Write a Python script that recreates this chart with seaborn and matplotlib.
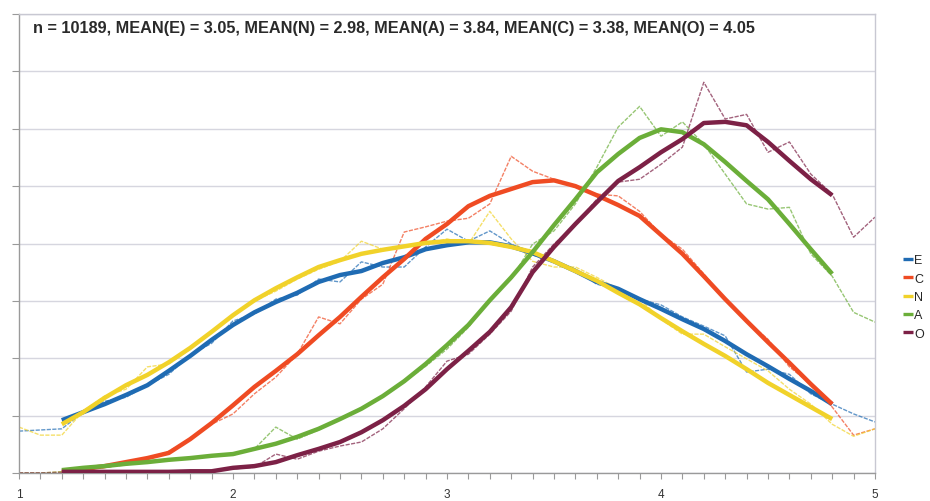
import matplotlib
matplotlib.use("Agg")
import matplotlib.pyplot as plt
from matplotlib.ticker import MultipleLocator
import seaborn as sns

# Mean score bins (step 0.1) and the 5-point moving-average range
scores = [1.0, 1.1, 1.2, 1.3, 1.4, 1.5, 1.6, 1.7, 1.8, 1.9,
          2.0, 2.1, 2.2, 2.3, 2.4, 2.5, 2.6, 2.7, 2.8, 2.9,
          3.0, 3.1, 3.2, 3.3, 3.4, 3.5, 3.6, 3.7, 3.8, 3.9,
          4.0, 4.1, 4.2, 4.3, 4.4, 4.5, 4.6, 4.7, 4.8, 4.9, 5.0]
scores_avg = scores[2:-2]

# Share of respondents (%) per score bin
e_raw = [0.73, 0.75, 0.77, 1.06, 1.25, 1.32, 1.53, 1.72, 2.06, 2.26,
         2.65, 2.77, 3.03, 3.10, 3.38, 3.33, 3.68, 3.59, 3.59, 3.94,
         4.25, 4.04, 4.22, 3.99, 3.80, 3.69, 3.55, 3.29, 3.21, 3.03,
         2.93, 2.72, 2.56, 2.39, 1.76, 1.81, 1.72, 1.38, 1.20, 1.03, 0.89]
c_raw = [0.00, 0.00, 0.02, 0.05, 0.10, 0.16, 0.24, 0.38, 0.59, 0.85,
         1.03, 1.38, 1.67, 2.07, 2.72, 2.60, 3.03, 3.29, 4.20, 4.29,
         4.39, 4.44, 4.69, 5.52, 5.26, 5.12, 4.98, 4.86, 4.83, 4.56,
         4.16, 3.90, 3.47, 3.03, 2.65, 2.33, 1.85, 1.55, 1.15, 0.66, 0.77]
n_raw = [0.80, 0.66, 0.66, 1.08, 1.34, 1.46, 1.85, 1.90, 2.16, 2.47,
         2.75, 3.00, 3.17, 3.38, 3.55, 3.69, 4.04, 3.90, 3.94, 3.99,
         4.08, 3.99, 4.56, 4.08, 3.69, 3.59, 3.59, 3.41, 3.21, 3.03,
         2.68, 2.42, 2.42, 2.20, 1.99, 1.78, 1.46, 1.20, 0.85, 0.64, 0.77]
a_raw = [0.00, 0.00, 0.02, 0.05, 0.10, 0.14, 0.21, 0.24, 0.24, 0.30,
         0.31, 0.42, 0.80, 0.59, 0.75, 0.94, 1.13, 1.34, 1.59, 1.86,
         2.16, 2.54, 3.03, 3.38, 3.99, 4.22, 4.69, 5.33, 6.03, 6.39,
         5.87, 6.12, 5.73, 5.21, 4.69, 4.60, 4.63, 3.82, 3.43, 2.80, 2.63]
o_raw = [0.00, 0.00, 0.00, 0.00, 0.00, 0.00, 0.00, 0.02, 0.02, 0.03,
         0.07, 0.10, 0.33, 0.24, 0.38, 0.47, 0.54, 0.77, 1.12, 1.50,
         1.95, 2.07, 2.42, 2.82, 3.59, 3.99, 4.34, 4.77, 5.07, 5.12,
         5.38, 5.68, 6.81, 6.17, 6.25, 5.59, 5.77, 5.21, 4.86, 4.11, 4.46]

# Moving-average curves (1.2 .. 4.8)
e_avg = [0.92, 1.06, 1.20, 1.36, 1.53, 1.78, 2.04, 2.32, 2.58, 2.80,
         2.98, 3.14, 3.33, 3.45, 3.52, 3.66, 3.76, 3.90, 3.97, 4.02,
         4.02, 3.95, 3.83, 3.69, 3.52, 3.33, 3.21, 3.03, 2.86, 2.68,
         2.51, 2.30, 2.07, 1.86, 1.64, 1.43, 1.20]
c_avg = [0.02, 0.07, 0.12, 0.19, 0.26, 0.35, 0.59, 0.87, 1.18, 1.50,
         1.78, 2.07, 2.40, 2.72, 3.07, 3.41, 3.73, 4.08, 4.34, 4.65,
         4.83, 4.95, 5.07, 5.10, 5.00, 4.84, 4.67, 4.48, 4.15, 3.82,
         3.43, 3.03, 2.65, 2.28, 1.92, 1.55, 1.20]
n_avg = [0.85, 1.06, 1.31, 1.53, 1.71, 1.93, 2.18, 2.46, 2.75, 3.01,
         3.22, 3.41, 3.59, 3.71, 3.82, 3.89, 3.95, 4.01, 4.04, 4.04,
         4.01, 3.94, 3.85, 3.69, 3.52, 3.35, 3.14, 2.94, 2.70, 2.47,
         2.25, 2.04, 1.81, 1.57, 1.36, 1.15, 0.94]
a_avg = [0.05, 0.09, 0.12, 0.16, 0.19, 0.23, 0.26, 0.30, 0.33, 0.42,
         0.51, 0.63, 0.77, 0.94, 1.12, 1.34, 1.60, 1.90, 2.23, 2.58,
         3.01, 3.41, 3.85, 4.32, 4.77, 5.24, 5.56, 5.84, 5.99, 5.94,
         5.73, 5.42, 5.09, 4.77, 4.34, 3.90, 3.47]
o_avg = [0.02, 0.02, 0.02, 0.02, 0.02, 0.02, 0.03, 0.03, 0.09, 0.12,
         0.19, 0.31, 0.42, 0.54, 0.71, 0.92, 1.17, 1.46, 1.81, 2.13,
         2.46, 2.89, 3.50, 3.94, 4.34, 4.72, 5.09, 5.33, 5.59, 5.82,
         6.10, 6.12, 6.06, 5.77, 5.44, 5.12, 4.84]

series_names = ["E", "C", "N", "A", "O"]
raw_values = [e_raw, c_raw, n_raw, a_raw, o_raw]
avg_values = [e_avg, c_avg, n_avg, a_avg, o_avg]
colors = ["#1F6BB3", "#EF4B23", "#F1D22A", "#6BAE39", "#7C2146"]

header = ("n = 10189, MEAN(E) = 3.05, MEAN(N) = 2.98, MEAN(A) = 3.84, "
          "MEAN(C) = 3.38, MEAN(O) = 4.05")

sns.set_style("white")
plt.rcParams["font.family"] = ["Liberation Sans", "DejaVu Sans"]

W, H = 930, 502
fig = plt.figure(figsize=(W / 100, H / 100), dpi=100)
ax = fig.add_axes([19 / W, 28 / H, (875 - 19) / W, (474 - 15) / H])

# thin raw lines underneath
for vals, col in zip(raw_values, colors):
    sns.lineplot(x=scores, y=vals, ax=ax, color=col, linewidth=1.0,
                 alpha=0.7, linestyle=(0, (3, 1)), zorder=2)

# thick smoothed lines on top
for name, vals, col in zip(series_names, avg_values, colors):
    sns.lineplot(x=scores_avg, y=vals, ax=ax, color=col, linewidth=3.2,
                 label=name, zorder=3, solid_capstyle="butt")

ax.set_xlim(1, 5)
ax.set_ylim(0, 8)
ax.set_xlabel("")
ax.set_ylabel("")

ax.xaxis.set_major_locator(MultipleLocator(1))
ax.xaxis.set_minor_locator(MultipleLocator(0.1))
ax.yaxis.set_major_locator(MultipleLocator(1))
ax.tick_params(axis="x", which="both", direction="out", length=4,
               width=0.8, color="#9A9A9A", bottom=True, pad=7,
               labelsize=8.5, labelcolor="#333333")
ax.tick_params(axis="y", which="major", direction="out", length=5,
               width=0.8, color="#9A9A9A", left=True, labelleft=False)

ax.grid(axis="y", color="#D6D6DF", linewidth=1.0)
ax.grid(axis="x", visible=False)
for side in ["left", "bottom"]:
    ax.spines[side].set_color("#9A9A9A")
    ax.spines[side].set_linewidth(1.0)
for side in ["top", "right"]:
    ax.spines[side].set_color("#C8C8D2")
    ax.spines[side].set_linewidth(1.0)

fig.text(33 / W, 1 - 28 / H, header, ha="left", va="center",
         fontsize=11.7, fontweight="bold", color="#2A2A2A")

ax.legend(loc="center left", bbox_to_anchor=(903 / W, 1 - 298 / H),
          bbox_transform=fig.transFigure, frameon=False, fontsize=9,
          handlelength=0.8, handletextpad=0.1, labelspacing=0.5,
          borderpad=0, borderaxespad=0)
for line in ax.get_legend().get_lines():
    line.set_linewidth(2.4)

fig.savefig("out.png", dpi=100)
